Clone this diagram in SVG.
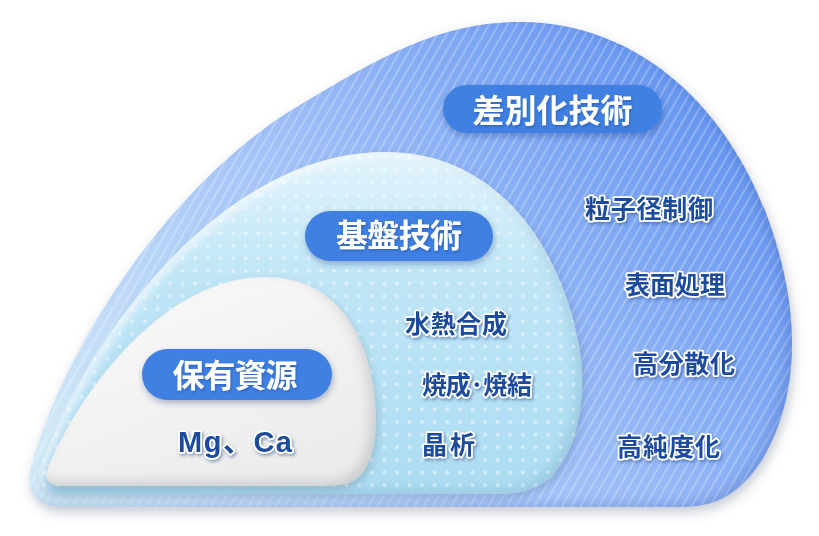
<svg xmlns="http://www.w3.org/2000/svg" width="819" height="536" viewBox="0 0 819 536">
<defs>
<style>
.pill{fill:#3f80e2}
.ptxt{font-family:"Noto Sans CJK JP","Noto Sans",sans-serif;font-weight:700;font-size:32px;fill:#fff;text-anchor:middle}
.lbl{font-family:"Noto Sans CJK JP","Noto Sans",sans-serif;font-weight:700;font-size:25px;fill:#1d4b9e;stroke:#fff;stroke-width:3.5;stroke-linejoin:round;paint-order:stroke}
</style>
<linearGradient id="gOuter" x1="0" y1="0.85" x2="1" y2="0.3">
<stop offset="0" stop-color="#d3ebf8"/>
<stop offset="0.45" stop-color="#a7c5f8"/>
<stop offset="1" stop-color="#6393ef"/>
</linearGradient>
<linearGradient id="gMid" x1="0" y1="0" x2="0" y2="1">
<stop offset="0" stop-color="#e2f4fc"/>
<stop offset="0.35" stop-color="#c0e6f7"/>
<stop offset="1" stop-color="#acdcf2"/>
</linearGradient>
<linearGradient id="gIn" x1="0" y1="0" x2="0.6" y2="1">
<stop offset="0" stop-color="#fbfbfb"/>
<stop offset="1" stop-color="#ececec"/>
</linearGradient>
<pattern id="stripes" patternUnits="userSpaceOnUse" width="8" height="8" patternTransform="rotate(30)">
<line x1="4" y1="0" x2="4" y2="8" stroke="#fff" stroke-opacity="0.38" stroke-width="1.3"/>
</pattern>
<pattern id="dots" patternUnits="userSpaceOnUse" width="12.6" height="12.6">
<circle cx="6.3" cy="6.3" r="1.9" fill="#fff" fill-opacity="0.5"/>
</pattern>
<filter id="shOuter" x="-10%" y="-10%" width="120%" height="125%">
<feGaussianBlur in="SourceAlpha" stdDeviation="6" result="blur"/>
<feOffset in="blur" dx="2" dy="5" result="ob"/>
<feFlood flood-color="#56657f" flood-opacity="0.35"/>
<feComposite in2="ob" operator="in" result="drop"/>
<feOffset in="SourceAlpha" dx="-6" dy="-4" result="sa"/>
<feGaussianBlur in="sa" stdDeviation="6" result="sab"/>
<feComposite in="SourceAlpha" in2="sab" operator="out" result="edge"/>
<feFlood flood-color="#2a56b8" flood-opacity="0.35"/>
<feComposite in2="edge" operator="in" result="inner"/>
<feMerge><feMergeNode in="drop"/><feMergeNode in="SourceGraphic"/><feMergeNode in="inner"/></feMerge>
</filter>
<filter id="shMid" x="-10%" y="-10%" width="120%" height="125%">
<feGaussianBlur in="SourceAlpha" stdDeviation="4" result="blur"/>
<feOffset in="blur" dx="2" dy="4" result="ob"/>
<feFlood flood-color="#4a6a95" flood-opacity="0.3"/>
<feComposite in2="ob" operator="in" result="drop"/>
<feOffset in="SourceAlpha" dx="-6" dy="-4" result="sa"/>
<feGaussianBlur in="sa" stdDeviation="6" result="sab"/>
<feComposite in="SourceAlpha" in2="sab" operator="out" result="edge"/>
<feFlood flood-color="#3a88b0" flood-opacity="0.3"/>
<feComposite in2="edge" operator="in" result="inner"/>
<feOffset in="SourceAlpha" dx="5" dy="4" result="sa2"/>
<feGaussianBlur in="sa2" stdDeviation="4" result="sab2"/>
<feComposite in="SourceAlpha" in2="sab2" operator="out" result="edge2"/>
<feFlood flood-color="#ffffff" flood-opacity="0.6"/>
<feComposite in2="edge2" operator="in" result="hi"/>
<feMerge><feMergeNode in="drop"/><feMergeNode in="SourceGraphic"/><feMergeNode in="hi"/><feMergeNode in="inner"/></feMerge>
</filter>
<filter id="shIn" x="-10%" y="-10%" width="120%" height="125%">
<feGaussianBlur in="SourceAlpha" stdDeviation="4" result="blur"/>
<feOffset in="blur" dx="2" dy="4" result="ob"/>
<feFlood flood-color="#6a7f95" flood-opacity="0.35"/>
<feComposite in2="ob" operator="in" result="drop"/>
<feOffset in="SourceAlpha" dx="-6" dy="-5" result="sa"/>
<feGaussianBlur in="sa" stdDeviation="6" result="sab"/>
<feComposite in="SourceAlpha" in2="sab" operator="out" result="edge"/>
<feFlood flood-color="#8a8f98" flood-opacity="0.4"/>
<feComposite in2="edge" operator="in" result="inner"/>
<feMerge><feMergeNode in="drop"/><feMergeNode in="SourceGraphic"/><feMergeNode in="inner"/></feMerge>
</filter>
<filter id="pillsh" x="-10%" y="-20%" width="120%" height="150%">
<feDropShadow dx="1" dy="3" stdDeviation="3" flood-color="#1c3570" flood-opacity="0.35"/>
</filter>
<filter id="txtsh" x="-10%" y="-20%" width="125%" height="150%">
<feDropShadow dx="1.5" dy="2" stdDeviation="1.5" flood-color="#2a4a8a" flood-opacity="0.5"/>
</filter>
<filter id="ptsh" x="-10%" y="-20%" width="125%" height="150%">
<feDropShadow dx="1" dy="1.5" stdDeviation="1" flood-color="#1a3a7a" flood-opacity="0.4"/>
</filter>
</defs>
<rect width="819" height="536" fill="#fff"/>

<g id="node-outer">
<g filter="url(#shOuter)">
<path d="M 62,507 C 40,507 26,494 30,471 C 68,330 185,172 300,105 C 380,57 440,22 520,22 C 640,22 732,110 772,230 C 802,320 798,400 762,460 C 737,498 712,507 680,507 Z" fill="url(#gOuter)"/>
<path d="M 62,507 C 40,507 26,494 30,471 C 68,330 185,172 300,105 C 380,57 440,22 520,22 C 640,22 732,110 772,230 C 802,320 798,400 762,460 C 737,498 712,507 680,507 Z" fill="url(#stripes)"/>
</g>
<g filter="url(#pillsh)"><rect class="pill" x="443" y="85" width="219" height="48" rx="24"/></g>
<text class="ptxt" x="552.5" y="122" filter="url(#ptsh)" textLength="160">差別化技術</text>
<g filter="url(#txtsh)">
<text class="lbl" x="585" y="218" textLength="128">粒子径制御</text>
<text class="lbl" x="625" y="294" textLength="100">表面処理</text>
<text class="lbl" x="633" y="373" textLength="102">高分散化</text>
<text class="lbl" x="617" y="456" textLength="103">高純度化</text>
</g>
</g>

<g id="node-middle">
<g filter="url(#shMid)">
<path d="M 58,494 C 44,494 36,484 39,470 C 85,340 220,152 385,152 C 500,152 560,250 578,340 C 590,400 575,460 545,482 C 530,492 515,494 495,494 Z" fill="url(#gMid)"/>
<path d="M 58,494 C 44,494 36,484 39,470 C 85,340 220,152 385,152 C 500,152 560,250 578,340 C 590,400 575,460 545,482 C 530,492 515,494 495,494 Z" fill="url(#dots)"/>
</g>
<g filter="url(#pillsh)"><rect class="pill" x="305" y="211" width="188" height="50" rx="25"/></g>
<text class="ptxt" x="399" y="247" filter="url(#ptsh)" textLength="126">基盤技術</text>
<g filter="url(#txtsh)">
<text class="lbl" x="405" y="333" textLength="102">水熱合成</text>
<text class="lbl" x="422" y="394" textLength="110">焼成·焼結</text>
<text class="lbl" x="422" y="454" textLength="53">晶 析</text>
</g>
</g>

<g id="node-inner">
<g filter="url(#shIn)">
<path d="M 62,486 C 49,486 43,479 48,468 C 80,390 165,277 265,277 C 335,277 365,330 374,390 C 380,440 372,478 345,484 C 335,486 320,486 300,486 Z" fill="url(#gIn)"/>
</g>
<g filter="url(#pillsh)"><rect class="pill" x="142" y="349" width="190" height="51" rx="25.5"/></g>
<text class="ptxt" x="235" y="387" filter="url(#ptsh)" textLength="125">保有資源</text>
<text class="lbl" x="178" y="452" style="font-family:'Liberation Sans','Noto Sans CJK JP',sans-serif;font-size:29px" filter="url(#txtsh)" textLength="114">Mg、Ca</text>
</g>

<g id="connectors"/>
</svg>
